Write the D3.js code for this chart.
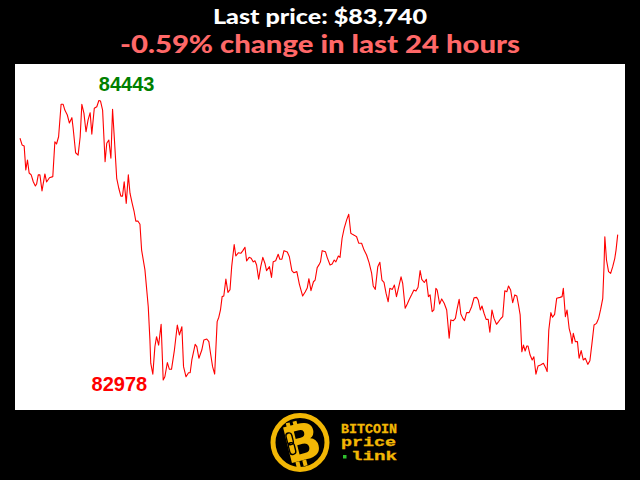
<!DOCTYPE html>
<html><head><meta charset="utf-8">
<script src="https://cdn.jsdelivr.net/npm/d3@7"></script>
<style>html,body{margin:0;padding:0;background:#000;}svg{display:block;}</style>
</head><body>
<svg id="chart" width="640" height="480"></svg>
<script>
// Minutes since start of the 24h window
const minutes = [0,5,10,14,18,22,27,32,37,40,44,48,53,60,64,71,79,84,88,93,99,104,108,114,119,125,128,134,140,145,149,154,159,164,169,173,179,185,190,194,199,205,209,214,219,223,228,233,238,243,247,251,256,261,265,270,275,279,284,289,293,301,309,313,315,320,325,329,334,340,345,349,355,360,365,372,379,384,390,394,400,406,410,414,422,426,431,438,443,450,455,459,464,469,475,479,483,487,491,496,501,506,510,516,520,526,532,537,542,546,552,557,562,566,570,575,580,585,590,594,601,606,610,616,622,626,631,636,644,649,655,660,667,673,681,687,692,696,701,707,711,716,721,724,728,736,740,747,752,757,761,767,771,776,781,787,792,797,802,806,811,816,823,829,835,841,847,851,856,862,867,872,877,882,887,891,897,902,907,913,918,922,928,933,938,944,949,954,959,964,968,974,979,984,988,993,997,1002,1005,1011,1016,1022,1028,1034,1038,1044,1049,1053,1058,1062,1067,1071,1076,1082,1088,1094,1100,1104,1109,1113,1118,1123,1128,1132,1137,1142,1148,1153,1158,1163,1168,1173,1177,1182,1187,1192,1197,1201,1205,1209,1213,1217,1221,1224,1229,1234,1238,1243,1248,1254,1261,1267,1270,1274,1279,1283,1288,1293,1301,1306,1309,1314,1318,1323,1327,1330,1333,1338,1343,1347,1352,1357,1362,1368,1373,1378,1383,1389,1394,1399,1404,1407,1409,1413,1418,1423,1428,1433,1436,1440];
// BTC price in USD
const prices = [84245,84210,84205,84079,84131,84063,84053,84017,83995,84005,84053,84053,83969,84058,84016,84038,84044,84227,84215,84253,84423,84423,84393,84367,84325,84353,84299,84169,84157,84253,84423,84377,84279,84341,84379,84267,84402,84410,84443,84440,84393,84122,84219,84236,84140,84397,84219,84035,83983,83942,83942,84017,83904,84053,83957,83906,83860,83811,83811,83794,83659,83555,83362,83188,83066,83009,83153,83205,83161,83270,82978,82995,83069,83034,83034,83135,83266,83214,83257,83048,82995,83016,83016,83083,83165,83153,83092,83135,83188,83193,83179,83118,83048,83009,83284,83307,83345,83415,83418,83507,83437,83452,83572,83688,83628,83645,83642,83656,83674,83602,83621,83616,83597,83603,83581,83506,83572,83621,83590,83551,83572,83516,83598,83603,83637,83611,83611,83656,83649,83624,83551,83540,83546,83481,83418,83439,83460,83509,83446,83493,83502,83567,83584,83598,83656,83650,83621,83581,83586,83607,83597,83628,83621,83721,83773,83817,83847,83747,83740,83736,83729,83695,83695,83659,83633,83593,83540,83471,83453,83572,83595,83502,83490,83432,83388,83459,83453,83476,83415,83471,83519,83485,83354,83376,83401,83427,83450,83444,83464,83552,83505,83489,83506,83415,83424,83336,83345,83459,83450,83376,83403,83380,83345,83197,83293,83289,83301,83349,83401,83324,83301,83289,83331,83331,83362,83409,83411,83397,83345,83366,83328,83296,83296,83228,83345,83301,83270,83284,83299,83310,83446,83441,83471,83450,83383,83424,83418,83371,83319,83126,83161,83130,83156,83156,83109,83083,83100,83009,83051,83057,83066,83039,83022,83240,83331,83307,83322,83406,83411,83415,83459,83310,83345,83249,83214,83170,83223,83179,83179,83092,83132,83083,83092,83060,83079,83170,83266,83275,83301,83349,83406,83572,83729,83607,83546,83537,83572,83616,83659,83740];
const titleLines = ["Last price: $83,740", "-0.59% change in last 24 hours"];
const logoWords = ["BITCOIN", "price", "link"];

const svg = d3.select("#chart");
svg.append("rect").attr("x",0).attr("y",0).attr("width",640).attr("height",480).attr("fill","#000");

// titles
svg.append("text").attr("x",320).attr("y",24).attr("text-anchor","middle")
  .attr("font-family","Lato, 'Open Sans', sans-serif").attr("font-weight",900)
  .attr("font-size",21).attr("fill","#fff")
  .attr("textLength",214).attr("lengthAdjust","spacingAndGlyphs")
  .text(titleLines[0]);
svg.append("text").attr("x",320).attr("y",53).attr("text-anchor","middle")
  .attr("font-family","Lato, 'Open Sans', sans-serif").attr("font-weight",900)
  .attr("font-size",25).attr("fill","#ff6868")
  .attr("textLength",400).attr("lengthAdjust","spacingAndGlyphs")
  .text(titleLines[1]);

// plot area
const plot = {left:15, right:625, top:64, bottom:410};
svg.append("rect").attr("x",plot.left).attr("y",plot.top)
  .attr("width",plot.right-plot.left).attr("height",plot.bottom-plot.top).attr("fill","#fff");

const x = d3.scaleLinear().domain([0,1440]).range([plot.left+5, plot.right-7.3]);
const y = d3.scaleLinear().domain([d3.min(prices), d3.max(prices)]).range([plot.bottom-30, plot.top+36.5]);

const data = minutes.map((m,i)=>({m, p:prices[i]}));
const line = d3.line().x(d=>x(d.m)).y(d=>y(d.p));
svg.append("path").datum(data).attr("d",line)
  .attr("fill","none").attr("stroke","#ff0000").attr("stroke-width",1.1).attr("stroke-linejoin","round");

// max / min labels
const iMax = d3.maxIndex(prices), iMin = d3.minIndex(prices);
svg.append("text").attr("x",x(minutes[iMax])).attr("y",y(prices[iMax])-10)
  .attr("font-family","'Liberation Sans', Arial, sans-serif").attr("font-weight",700)
  .attr("font-size",20).attr("fill","#008000").text(prices[iMax]);
svg.append("text").attr("x",x(minutes[iMin])-16).attr("y",y(prices[iMin])+11)
  .attr("text-anchor","end")
  .attr("font-family","'Liberation Sans', Arial, sans-serif").attr("font-weight",700)
  .attr("font-size",20).attr("fill","#ff0000").text(prices[iMin]);

// logo
const gold = "#f2b705";
const logo = svg.append("g");
logo.append("circle").attr("cx",300).attr("cy",442.5).attr("r",27).attr("fill","#000")
  .attr("stroke",gold).attr("stroke-width",5);
const bg = logo.append("g").attr("transform","translate(302,443) rotate(-14)");
bg.append("text").attr("x",0).attr("y",17).attr("text-anchor","middle")
  .attr("font-family","'DejaVu Sans', sans-serif").attr("font-weight",700)
  .attr("font-size",50).attr("fill",gold).text("B");
bg.selectAll("rect.bar").data([[-11,-23],[-4,-23],[-11,17],[-4,17]]).join("rect")
  .attr("x",d=>d[0]).attr("y",d=>d[1]).attr("width",4).attr("height",6).attr("fill",gold);
// chain link in stem
bg.append("rect").attr("x",-14).attr("y",-13).attr("width",6).attr("height",12).attr("rx",3)
  .attr("fill","none").attr("stroke","#000").attr("stroke-width",1.4);
bg.append("rect").attr("x",-14).attr("y",-3).attr("width",6).attr("height",12).attr("rx",3)
  .attr("fill","none").attr("stroke","#000").attr("stroke-width",1.4);

const mono = "'Liberation Mono', 'DejaVu Sans Mono', monospace";
logo.append("text").attr("x",341).attr("y",432.5).attr("font-family",mono).attr("font-weight",700)
  .attr("font-size",12).attr("fill",gold).attr("stroke",gold).attr("stroke-width",0.3)
  .attr("textLength",56).attr("lengthAdjust","spacingAndGlyphs").text(logoWords[0]);
logo.append("text").attr("x",341).attr("y",446).attr("font-family",mono).attr("font-weight",700)
  .attr("font-size",13).attr("fill",gold).attr("stroke",gold).attr("stroke-width",0.3)
  .attr("textLength",55).attr("lengthAdjust","spacingAndGlyphs").text(logoWords[1]);
logo.append("rect").attr("x",343).attr("y",455).attr("width",3.5).attr("height",3.5).attr("fill","#2fbf2f");
logo.append("text").attr("x",351).attr("y",459.5).attr("font-family",mono).attr("font-weight",700)
  .attr("font-size",13).attr("fill",gold).attr("stroke",gold).attr("stroke-width",0.3)
  .attr("textLength",46).attr("lengthAdjust","spacingAndGlyphs").text(logoWords[2]);
</script>
</body></html>
